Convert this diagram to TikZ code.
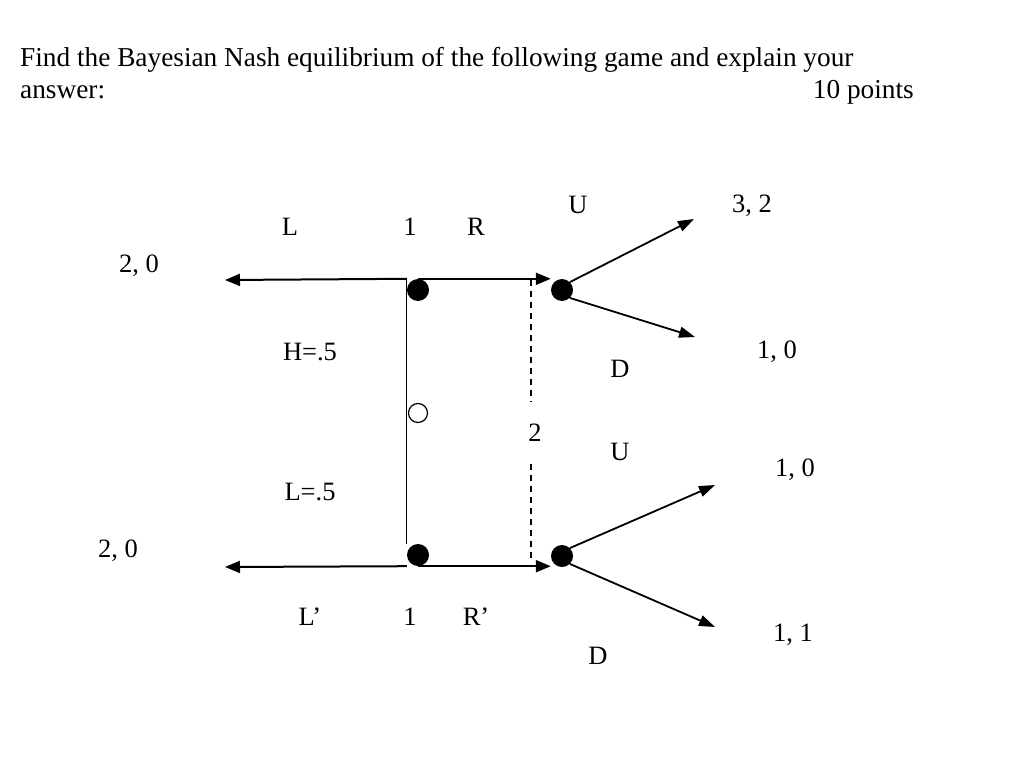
\documentclass[tikz,border=0pt]{standalone}
\usepackage{fontspec}
\setmainfont{Liberation Serif}
\usetikzlibrary{arrows.meta}
\pgfdeclarelayer{background}
\pgfsetlayers{background,main}
\tikzset{
  lbl/.style={inner sep=0pt, font=\fontsize{26.5}{30}\selectfont},
  ttl/.style={inner sep=0pt, anchor=base west, font=\fontsize{27.3}{31}\selectfont},
  dec/.style={circle, fill=black, minimum size=22pt, inner sep=0pt},
  chance/.style={circle, draw=black, fill=white, line width=1.2pt, minimum size=19pt, inner sep=0pt},
  move/.style={line width=2pt, -{Triangle[length=15pt,width=12pt]}},
  link/.style={line width=1.3pt},
  info/.style={line width=1.4pt, dash pattern=on 6pt off 5pt},
  branch/.style={line width=1.8pt, -{Triangle[length=16pt,width=11pt]}},
}
\begin{document}
\begin{tikzpicture}[x=1pt,y=-1pt]
\useasboundingbox (0,0) rectangle (1027,757);
% title
\node[ttl] (t1) at (20,67) {Find the Bayesian Nash equilibrium of the following game and explain your};
\node[ttl] (t2) at (20,99) {answer:};
\node[ttl, anchor=base east] (t3) at (914,99) {10 points};
% nodes
\node[dec] (n1) at (418,290) {};
\node[dec] (n2) at (418,555) {};
\node[chance] (c) at (418,413) {};
\node[dec] (m1) at (562,290) {};
\node[dec] (m2) at (562,556) {};
% free ends
\coordinate (lt) at (225,280);
\coordinate (lb) at (225,567);
\coordinate (u1) at (694,219);
\coordinate (d1) at (695,337);
\coordinate (u2) at (715,485);
\coordinate (d2) at (715,627);
\coordinate (s1) at (531,280);
\coordinate (s2) at (531,561);
% labels
\node[lbl, anchor=base] (L) at (290,235) {L};
\node[lbl, anchor=base] (one1) at (410,235) {1};
\node[lbl, anchor=base] (R) at (476,235) {R};
\node[lbl] (U1) at (578,205) {U};
\node[lbl] (p1) at (752,206) {3, 2};
\node[lbl] (p2) at (139,266) {2, 0};
\node[lbl] (H) at (310,352) {H=.5};
\node[lbl] (p3) at (777,352) {1, 0};
\node[lbl] (D1) at (620,369) {D};
\node[lbl, minimum height=62pt] (two) at (535,433) {2};
\node[lbl] (U2) at (620,452) {U};
\node[lbl] (p4) at (795,470) {1, 0};
\node[lbl] (Lp) at (310,492) {L=.5};
\node[lbl] (p5) at (118,551) {2, 0};
\node[lbl, anchor=base] (Lq) at (310,625) {L’};
\node[lbl, anchor=base] (one2) at (410,625) {1};
\node[lbl, anchor=base] (Rq) at (476,625) {R’};
\node[lbl] (p6) at (793,635) {1, 1};
\node[lbl] (D2) at (598,656) {D};
% connectors
\begin{pgfonlayer}{background}
\draw[move] (n1.west |- n1.north) -- (lt);
\draw[move] (n1.north) -- (m1.west |- n1.north);
\draw[move] (n2.west |- n2.south) -- (lb);
\draw[move] (n2.south) -- (m2.west |- n2.south);
\draw[link] (n1.west |- n1.north) -- (n2.west |- n2.north);
\draw[info] (s1) -- (s1 |- two.north);
\draw[info] (s2 |- two.south) -- (s2);
\end{pgfonlayer}
\draw[branch] (m1.north east) -- (u1);
\draw[branch] (m1.south east) -- (d1);
\draw[branch] (m2.north east) -- (u2);
\draw[branch] (m2.south east) -- (d2);
\end{tikzpicture}
\end{document}
